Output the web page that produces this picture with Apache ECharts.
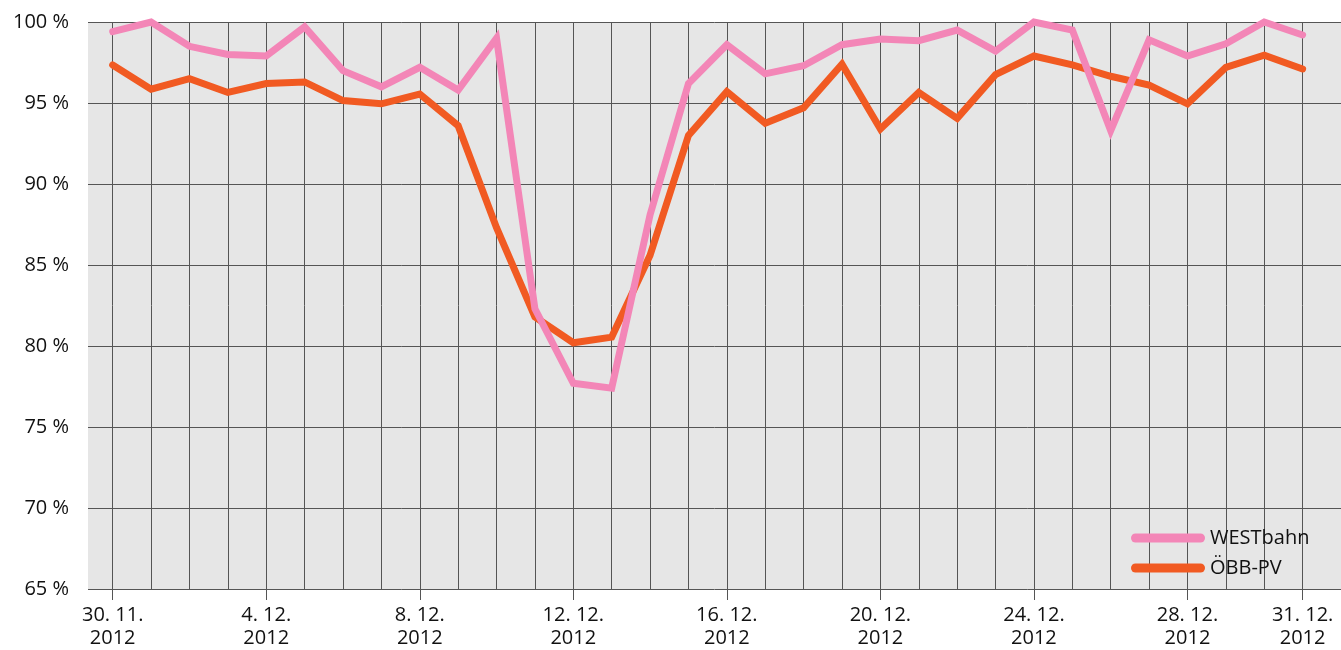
<!DOCTYPE html>
<html>
<head>
<meta charset="utf-8">
<title>Pünktlichkeit WESTbahn / ÖBB-PV, Dezember 2012</title>
<script src="https://cdn.jsdelivr.net/npm/echarts@6/dist/echarts.min.js"></script>
<style>
  html, body { margin: 0; padding: 0; background: #fff; }
  #chart { width: 1341px; height: 650px; }
</style>
</head>
<body>
<div id="chart"></div>
<script>
// Tage 30.11.2012 bis 31.12.2012
const days = [
  '30. 11.', '1. 12.', '2. 12.', '3. 12.', '4. 12.', '5. 12.', '6. 12.', '7. 12.',
  '8. 12.', '9. 12.', '10. 12.', '11. 12.', '12. 12.', '13. 12.', '14. 12.', '15. 12.',
  '16. 12.', '17. 12.', '18. 12.', '19. 12.', '20. 12.', '21. 12.', '22. 12.', '23. 12.',
  '24. 12.', '25. 12.', '26. 12.', '27. 12.', '28. 12.', '29. 12.', '30. 12.', '31. 12.'
];
const year = '2012';

// Tage mit Beschriftung an der x-Achse
const labelledDays = [0, 4, 8, 12, 16, 20, 24, 28, 31];

// Pünktlichkeit in Prozent
const westbahn = [
  99.4, 100.0, 98.5, 98.0, 97.9, 99.7, 97.0, 96.0,
  97.2, 95.8, 99.0, 82.3, 77.7, 77.4, 88.1, 96.2,
  98.6, 96.8, 97.3, 98.6, 98.95, 98.85, 99.5, 98.2,
  100.0, 99.5, 93.3, 98.9, 97.9, 98.65, 100.0, 99.2
];
const oebb = [
  97.35, 95.85, 96.5, 95.65, 96.2, 96.3, 95.15, 94.95,
  95.55, 93.6, 87.3, 81.8, 80.2, 80.55, 85.6, 93.0,
  95.7, 93.75, 94.7, 97.4, 93.4, 95.65, 94.05, 96.75,
  97.9, 97.35, 96.65, 96.1, 94.95, 97.2, 97.95, 97.1
];

const yTicks = { min: 65, max: 100, step: 5 };

const seriesNames = ['WESTbahn', 'ÖBB-PV'];
const seriesColors = ['#F386B7', '#F15A22'];

const FONT = '"Open Sans", "Noto Sans", sans-serif';
const GRID_COLOR = '#555555';
const allDays = days.map((d, i) => i);

function toPoints(values) {
  return values.map((v, i) => [i, v]);
}

const capsule = 'path://M4.5,0 L69.5,0 A4.5,4.5 0 0 1 69.5,9 L4.5,9 A4.5,4.5 0 0 1 4.5,0 Z';

const chart = echarts.init(document.getElementById('chart'), null, { renderer: 'canvas' });

chart.setOption({
  animation: false,
  backgroundColor: '#ffffff',
  grid: {
    left: 88, right: 0, top: 22, bottom: 56,
    show: true, backgroundColor: '#E6E6E6', borderWidth: 0
  },
  legend: {
    orient: 'vertical',
    left: 1126, top: 523,
    itemWidth: 74, itemHeight: 9, itemGap: 10,
    icon: capsule,
    textStyle: { fontFamily: FONT, fontSize: 20, color: '#111', lineHeight: 20, padding: [0, 0, 0, 0] },
    data: seriesNames
  },
  xAxis: [
    {
      // Beschriftete Achse unten
      type: 'value',
      position: 'bottom',
      min: -0.643, max: 32,
      axisLine: { show: false },
      axisTick: {
        show: true, length: 11, customValues: labelledDays,
        lineStyle: { color: GRID_COLOR, width: 1 }
      },
      axisLabel: {
        customValues: labelledDays,
        margin: 15,
        fontFamily: FONT, fontSize: 20, color: '#111', lineHeight: 23,
        formatter: v => days[Math.round(v)] + '\n' + year
      },
      splitLine: { show: false }
    },
    {
      // Senkrechte Gitterlinien für jeden Tag
      type: 'value',
      position: 'top',
      min: -0.643, max: 32,
      axisLine: { show: false },
      axisTick: { show: false, customValues: allDays },
      axisLabel: { show: false, customValues: allDays },
      splitLine: { show: true, lineStyle: { color: GRID_COLOR, width: 1 } }
    }
  ],
  yAxis: {
    type: 'value',
    min: yTicks.min, max: yTicks.max, interval: yTicks.step,
    axisLine: { show: false },
    axisTick: { show: true, length: 3, lineStyle: { color: GRID_COLOR, width: 1 } },
    axisLabel: {
      margin: 19,
      fontFamily: FONT, fontSize: 20, color: '#111',
      formatter: '{value} %'
    },
    splitLine: { show: true, lineStyle: { color: GRID_COLOR, width: 1 } }
  },
  series: [
    {
      name: seriesNames[0],
      type: 'line',
      xAxisIndex: 0,
      data: toPoints(westbahn),
      showSymbol: false,
      symbol: 'none',
      clip: false,
      z: 3,
      color: seriesColors[0],
      lineStyle: { width: 7, color: seriesColors[0], join: 'miter', cap: 'round' }
    },
    {
      name: seriesNames[1],
      type: 'line',
      xAxisIndex: 0,
      data: toPoints(oebb),
      showSymbol: false,
      symbol: 'none',
      clip: false,
      z: 2,
      color: seriesColors[1],
      lineStyle: { width: 7, color: seriesColors[1], join: 'miter', cap: 'round' }
    }
  ]
});
</script>
</body>
</html>
